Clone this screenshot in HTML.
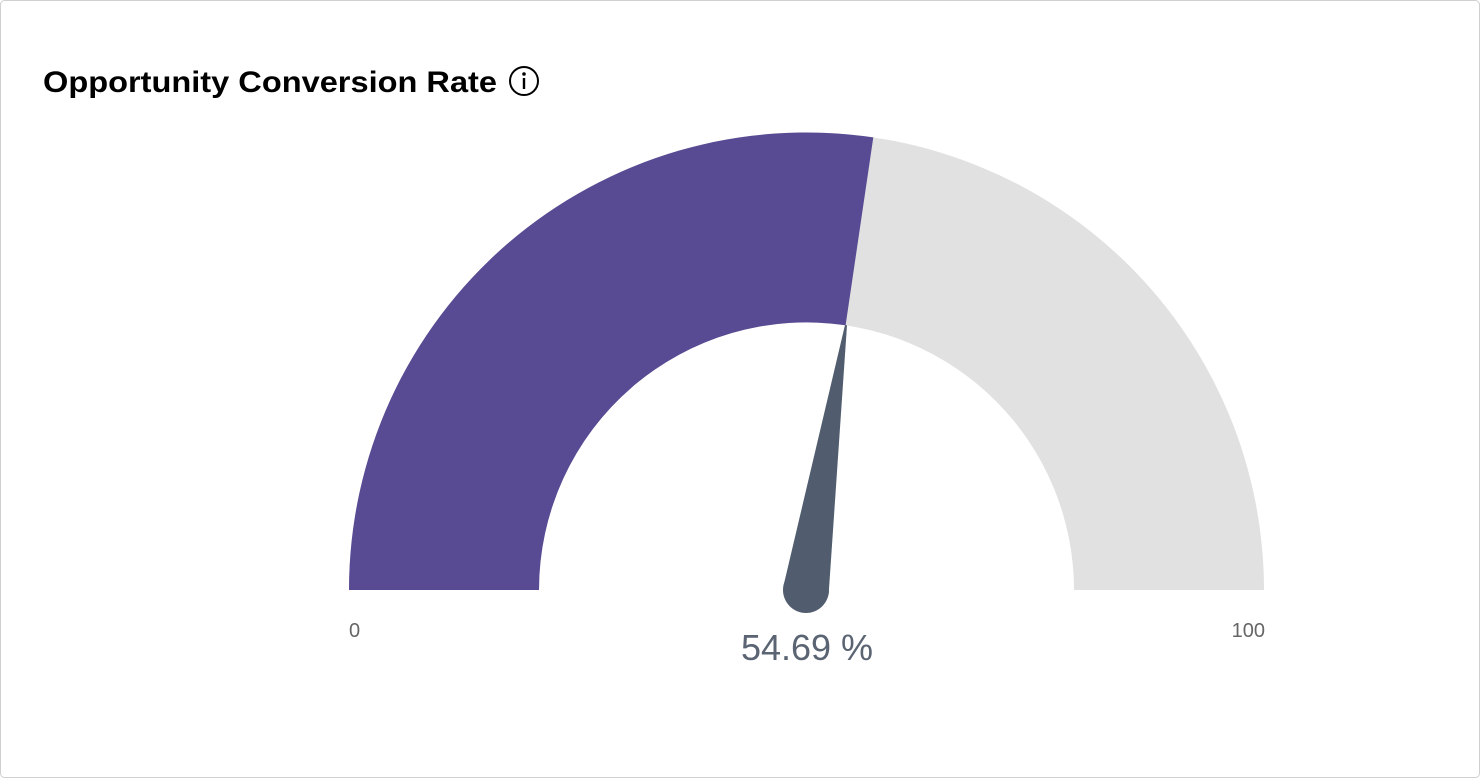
<!DOCTYPE html>
<html><head><style>
html,body{margin:0;padding:0;background:#fff;}
</style></head><body>
<svg width="1480" height="778" viewBox="0 0 1480 778" xmlns="http://www.w3.org/2000/svg">
<rect x="0.5" y="0.5" width="1479" height="777" rx="4" fill="#fff" stroke="#d0d0d0"/>
<text x="43" y="92" font-family="Liberation Sans, Arial, sans-serif" font-weight="bold" font-size="30" fill="#000" textLength="454" lengthAdjust="spacingAndGlyphs">Opportunity Conversion Rate</text>
<circle cx="524" cy="81" r="14" fill="none" stroke="#000" stroke-width="2"/>
<circle cx="524" cy="74" r="1.8" fill="#000"/>
<rect x="522.8" y="78" width="2.4" height="11" fill="#000"/>
<!-- gray arc -->
<path d="M349 590 A457.5 457.5 0 0 1 1264 590 L1074 590 A267.5 267.5 0 0 0 539 590 Z" fill="#e1e1e2"/>
<!-- purple arc to 54.69% -->
<path d="M349 590 A457.5 457.5 0 0 1 873.3 137.4 L845.6 325.3 A267.5 267.5 0 0 0 539 590 Z" fill="#584a93"/>
<!-- needle -->
<polygon points="845,325 847,325.3 828.7,593.4 783.3,586.6" fill="#515d6e"/>
<circle cx="806" cy="590" r="23" fill="#515d6e"/>
<text x="349" y="637" font-family="Liberation Sans, Arial, sans-serif" font-size="20" fill="#666">0</text>
<text x="1265" y="637" text-anchor="end" font-family="Liberation Sans, Arial, sans-serif" font-size="20" fill="#666">100</text>
<text x="807" y="660" text-anchor="middle" font-family="Liberation Sans, Arial, sans-serif" font-size="36" fill="#5a6472">54.69 %</text>
</svg>
</body></html>
